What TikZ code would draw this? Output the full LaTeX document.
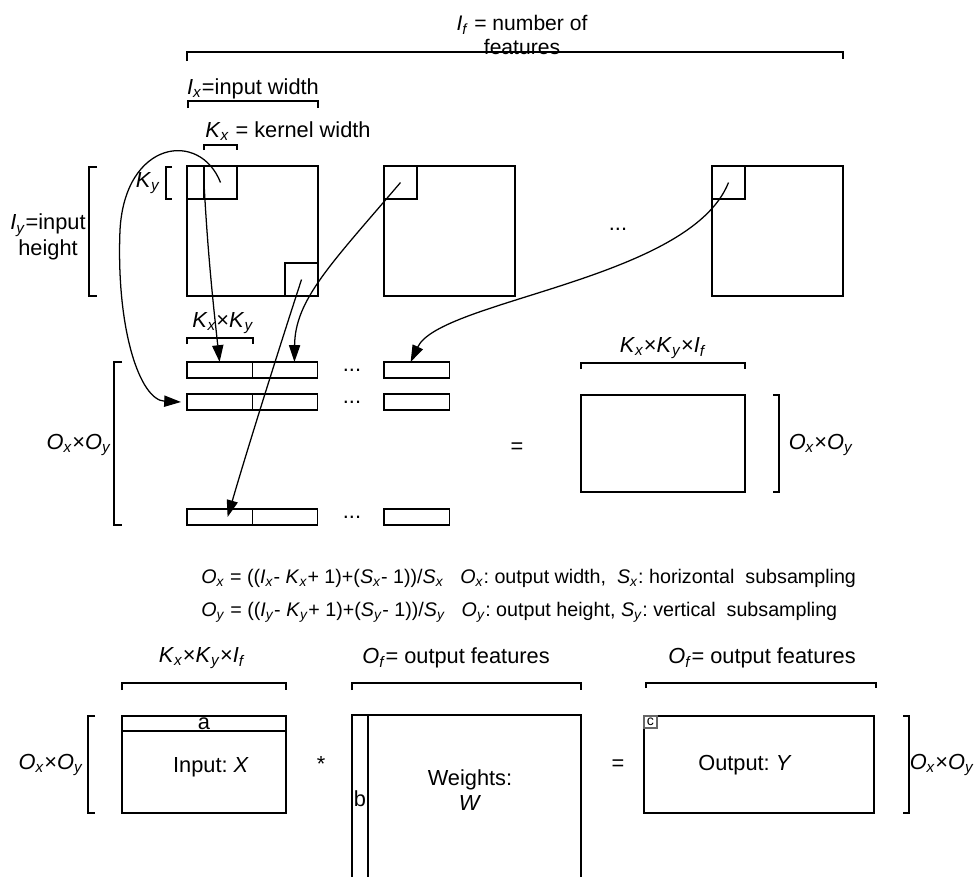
\documentclass[tikz,border=0pt]{standalone}
\usepackage{fontspec}
\setmainfont{Liberation Sans}
\usetikzlibrary{arrows.meta,positioning}
\newcommand{\idx}[2]{\textit{#1}\textsubscript{\textit{#2}}}
\frenchspacing

\begin{document}
\begin{tikzpicture}[x=0.025cm, y=-0.025cm,
  every node/.style={font=\fontsize{15.5}{18}\selectfont},
  box/.style={draw, inner sep=0pt, outer sep=0pt, anchor=north west},
  sq/.style={box, minimum width=3.275cm, minimum height=3.25cm},
  kern/.style={box, minimum size=0.825cm},
  cell/.style={box, minimum width=1.63cm, minimum height=0.4cm},
  mat/.style={box, minimum width=4.1cm, minimum height=2.425cm},
  formula/.style={anchor=west, font=\fontsize{14}{17}\selectfont},
  arr/.style={-{Triangle[length=0.42cm,width=0.28cm]}},
  line width=0.9pt
]
  \useasboundingbox (0,0) rectangle (980,876);
  \clip (0,0) rectangle (980,876);

  % input feature maps
  \node[align=center, font=\fontsize{15}{17}\selectfont] (nf) at (522,35) {\idx{I}{f} = number of\\features};
  \draw (187,61) -- (187,52) -- (843,52) -- (843,59);
  \node (iw) at (253,89) {\idx{I}{x}=input width};
  \draw (188,108) -- (188,101) -- (318,101) -- (318,108);
  \node (kw) at (288,131) {\idx{K}{x} = kernel width};
  \draw (204,150) -- (204,145) -- (237,145) -- (237,150);
  \node (ky) at (148,183) {\idx{K}{y}};
  \draw (172,167) -- (166,167) -- (166,199) -- (172,199);
  \node[align=center] (ih) at (48,237) {\idx{I}{y}=input\\height};
  \draw (97,167) -- (89,167) -- (89,296) -- (97,296);

  \node[sq] (sq1) at (187,166) {};
  \node[sq] (sq2) at (384,166) {};
  \node[sq] (sq3) at (712,166) {};
  \node (d0) at (618,229) {...};

  \node[kern] (k1) at (204,166) {};
  \draw (sq1.north west |- k1.south) -- (k1.south west);
  \node[kern, anchor=south east] (k2) at (sq1.south east) {};
  \node[kern] (k3) at (sq2.north west) {};
  \node[kern] (k4) at (sq3.north west) {};

  % unrolled rows
  \node (kk) at (223,323) {\idx{K}{x}×\idx{K}{y}};
  \draw (187,344) -- (187,338) -- (253,338) -- (253,344);
  \foreach \r/\y in {1/362, 2/394, 3/509} {
    \node[cell] (r\r a) at (187,\y) {};
    \node[cell] (r\r b) at (r\r a.north east) {};
    \node (r\r d) at (352,{\y+8}) {...};
    \node[cell] (r\r c) at (384,\y) {};
  }
  \draw (122,362) -- (114,362) -- (114,525) -- (122,525);
  \node (oo1) at (79,445) {\idx{O}{x}×\idx{O}{y}};

  \node (eq1) at (517,448) {=};
  \node[mat] (mx) at (581,395) {};
  \node (kkf) at (663,348) {\idx{K}{x}×\idx{K}{y}×\idx{I}{f}};
  \draw (581,369) -- (581,363) -- (745,363) -- (745,369);
  \draw (773,395) -- (779,395) -- (779,492) -- (773,492);
  \node (oo2) at (821,445) {\idx{O}{x}×\idx{O}{y}};

  \draw[arr] (k1.center) .. controls (200,130) and (125,140) .. (120,230)
    .. controls (116,330) and (140,400) .. ([xshift=-0.15cm]r2a.west);
  \draw[arr] (k1.west) .. controls (208,260) and (215,320) .. (r1a.north);
  \draw[arr] (k2.center) .. controls (285,330) and (250,440) .. ([xshift=0.2cm]r3a.center);
  \draw[arr] (k3.center) .. controls (330,265) and (295,300) .. ([xshift=0.24cm]r1b.north);
  \draw[arr] (k4.center) .. controls (690,280) and (440,300) .. ([xshift=-0.15cm]r1c.north);

  % output size
  \node[formula] (fx) at (196,578) {\idx{O}{x} = ((\idx{I}{x}- \idx{K}{x}+ 1)+(\idx{S}{x}- 1))/\idx{S}{x}\ \ \ \idx{O}{x}: output width,\ \ \idx{S}{x}: horizontal\ \ subsampling};
  \node[formula] (fy) at (196,612) {\idx{O}{y} = ((\idx{I}{y}- \idx{K}{y}+ 1)+(\idx{S}{y}- 1))/\idx{S}{y}\ \ \ \idx{O}{y}: output height, \idx{S}{y}: vertical\ \ subsampling};

  % matrix product
  \node (kkf2) at (202,658) {\idx{K}{x}×\idx{K}{y}×\idx{I}{f}};
  \draw (122,690) -- (122,683) -- (286,683) -- (286,690);
  \node[mat] (inx) at (122,716) {};
  \node[box, minimum width=4.1cm, minimum height=0.375cm] (rowa) at (122,716) {a};
  \node (inxt) at (211,767) {Input: \textit{X}};
  \draw (95,716) -- (88,716) -- (88,813) -- (95,813);
  \node (oo3) at (51,765) {\idx{O}{x}×\idx{O}{y}};

  \node (mul) at (321,764) {*};
  \node (of1) at (456,658) {\idx{O}{f}= output features};
  \draw (352,690) -- (352,683) -- (581,683) -- (581,690);
  \node[box, minimum width=5.725cm, minimum height=4.2cm] (wb) at (352,715) {};
  \node[box, minimum width=0.4cm, minimum height=4.2cm] (colb) at (352,715) {b};
  \node[align=center] (wt) at (470,790) {Weights:\\\textit{W}};

  \node (eq2) at (618,765) {=};
  \node (of2) at (762,658) {\idx{O}{f}= output features};
  \draw (646,688) -- (646,683) -- (876,683) -- (876,688);
  \node[box, minimum width=5.75cm, minimum height=2.425cm] (outy) at (644,716) {};
  \node[box, draw=black!60, line width=1.2pt, minimum width=0.325cm, minimum height=0.3cm,
        font=\fontsize{10}{10}\selectfont] (cb) at (644,716) {c};
  \node (outt) at (745,765) {Output: \textit{Y}};
  \draw (903,716) -- (909,716) -- (909,813) -- (903,813);
  \node (oo4) at (942,765) {\idx{O}{x}×\idx{O}{y}};
\end{tikzpicture}
\end{document}
